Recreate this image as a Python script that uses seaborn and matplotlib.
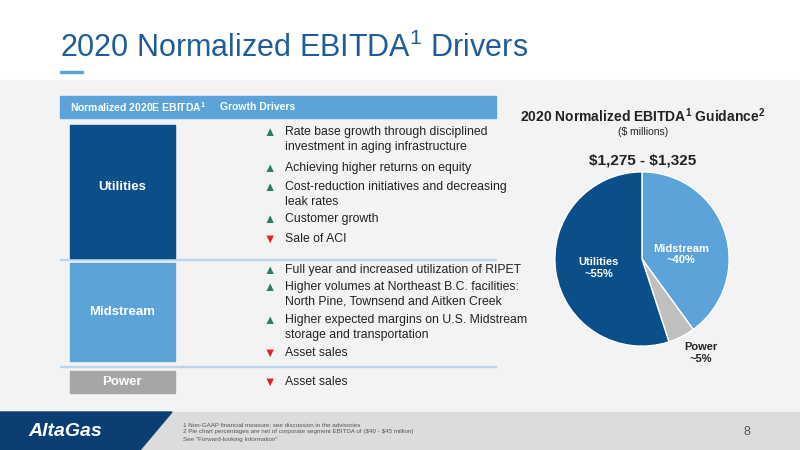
import matplotlib
matplotlib.use("Agg")
import matplotlib.pyplot as plt
import seaborn as sns
from matplotlib.patches import Rectangle, Polygon

sns.set_style("white")
plt.rcParams['font.family'] = ['Liberation Sans', 'DejaVu Sans']
plt.rcParams['mathtext.fontset'] = 'custom'
plt.rcParams['mathtext.rm'] = 'Liberation Sans'
plt.rcParams['mathtext.bf'] = 'Liberation Sans:bold'

segments = ["Midstream", "Power", "Utilities"]
shares = [40, 5, 55]
share_labels = ["~40%", "~5%", "~55%"]
seg_colors = ["#5BA3D9", "#BFBFBF", "#0B4F8A"]

utilities_drivers = [("up", "Rate base growth through disciplined\ninvestment in aging infrastructure"),
                     ("up", "Achieving higher returns on equity"),
                     ("up", "Cost-reduction initiatives and decreasing\nleak rates"),
                     ("up", "Customer growth"),
                     ("down", "Sale of ACI")]
midstream_drivers = [("up", "Full year and increased utilization of RIPET"),
                     ("up", "Higher volumes at Northeast B.C. facilities:\nNorth Pine, Townsend and Aitken Creek"),
                     ("up", "Higher expected margins on U.S. Midstream\nstorage and transportation"),
                     ("down", "Asset sales")]
power_drivers = [("down", "Asset sales")]

W, H = 800, 450
fig = plt.figure(figsize=(8, 4.5), dpi=100)

def px(x, y):
    return x / W, 1 - y / H

def rect(x, y, w, h, color, **kw):
    fig.patches.append(Rectangle((x / W, 1 - (y + h) / H), w / W, h / H,
                                 transform=fig.transFigure, color=color, **kw))

def text(x, y, s, **kw):
    fig.text(*px(x, y), s, **kw)

# background
rect(0, 80, 800, 332, "#F3F3F3", zorder=0)
rect(0, 412, 800, 38, "#DCDCDC", zorder=0)
fig.patches.append(Polygon([px(0, 412), px(172, 412), px(140, 450), px(0, 450)],
                           closed=True, transform=fig.transFigure, color="#0B3F73", zorder=1))
text(28, 432, "AltaGas", color="white", fontsize=14, fontweight="bold", style="italic", va="center")
text(183, 425, "1 Non-GAAP financial measure; see discussion in the advisories", fontsize=4.5, color="#555555", va="center")
text(183, 432, "2 Pie chart percentages are net of corporate segment EBITDA of (\\$40 - \\$45 million)", fontsize=4.5, color="#555555", va="center")
text(183, 440, "See \"Forward-looking Information\"", fontsize=4.5, color="#555555", va="center")
text(744, 432, "8", fontsize=9, color="#555555", va="center")

# title
text(60, 48, r"2020 Normalized EBITDA$^{\mathregular{1}}$ Drivers", fontsize=22, color="#1F5C99", va="center")
rect(60, 71, 23, 2, "#5BA3D9")

# table header
rect(60, 96, 436, 22, "#5BA3D9")
text(70, 107, r"Normalized 2020E EBITDA$^{\mathbf{1}}$", fontsize=7.5, color="white", fontweight="bold", va="center")
text(220, 107, "Growth Drivers", fontsize=7.5, color="white", fontweight="bold", va="center")
rect(60, 259, 436, 1, "#B9D6EE")
rect(60, 366, 436, 1, "#B9D6EE")

rect(70, 125, 105, 133, "#0B4F8A")
text(122, 187, "Utilities", fontsize=9.5, color="white", fontweight="bold", ha="center", va="center")
rect(70, 263, 105, 98, "#5BA3D9")
text(122, 312, "Midstream", fontsize=9.5, color="white", fontweight="bold", ha="center", va="center")
rect(70, 371, 105, 22, "#A6A6A6")
text(122, 382, "Power", fontsize=9.5, color="white", fontweight="bold", ha="center", va="center")

def drivers(items, ys):
    for (d, s), y in zip(items, ys):
        mark, col = ("▲", "#2E7D6B") if d == "up" else ("▼", "#E0202A")
        text(270, y + 1, mark, fontsize=9, color=col, va="top", ha="center")
        text(285, y, s, fontsize=8.8, color="#222222", va="top", linespacing=1.3)

drivers(utilities_drivers, [126, 162, 181, 213, 233])
drivers(midstream_drivers, [264, 281, 314, 347])
drivers(power_drivers, [376])

# pie
text(643, 116, r"2020 Normalized EBITDA$^{\mathbf{1}}$ Guidance$^{\mathbf{2}}$", fontsize=10, fontweight="bold", ha="center", va="center", color="#222222")
text(643, 132, "(\\$ millions)", fontsize=7.5, ha="center", va="center", color="#222222")
text(643, 160, "\\$1,275 - \\$1,325", fontsize=11, fontweight="bold", ha="center", va="center", color="#222222")

ax = fig.add_axes([554 / W, 1 - 347 / H, 176 / W, 176 / H], zorder=5)
ax.pie(shares, colors=seg_colors, startangle=90, counterclock=False,
       wedgeprops=dict(edgecolor="white", linewidth=1))
ax.set_xlim(-1.01, 1.01)
ax.set_ylim(-1.01, 1.01)
ax.set_aspect("equal")
ax.text(0.45, 0.05, "Midstream\n" + share_labels[0], fontsize=8, color="white", fontweight="bold", ha="center", va="center")
ax.text(-0.5, -0.1, "Utilities\n" + share_labels[2], fontsize=8, color="white", fontweight="bold", ha="center", va="center")
text(701, 353, "Power\n" + share_labels[1], fontsize=8, color="#222222", fontweight="bold", ha="center", va="center")

fig.savefig("out.png", dpi=100)
